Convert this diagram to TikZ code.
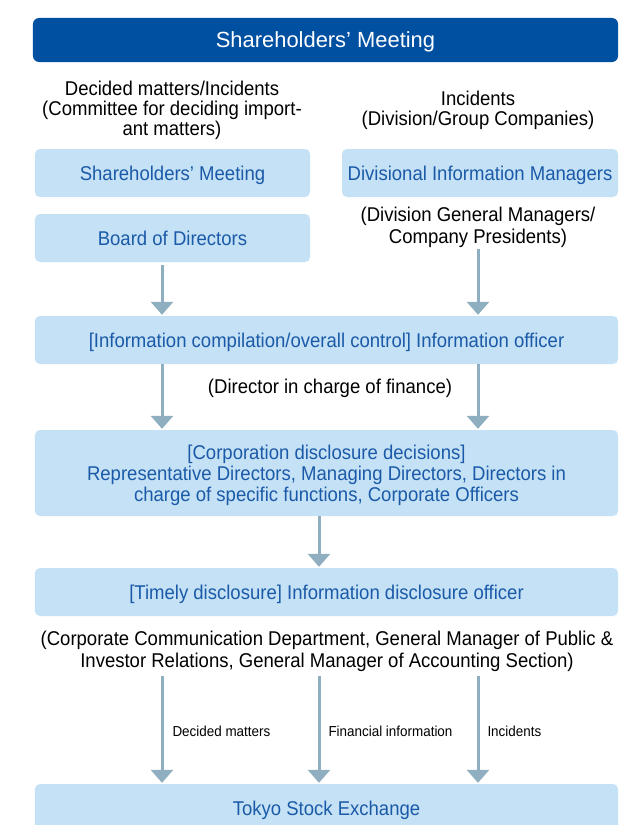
\documentclass[tikz,border=0pt]{standalone}
\usepackage{fontspec}
\setmainfont[FakeStretch=0.93]{Liberation Sans}
\newfontfamily\hdrfont{Liberation Sans}
\usetikzlibrary{arrows.meta}
\definecolor{hdr}{HTML}{0050A2}
\definecolor{boxfill}{HTML}{C5E1F5}
\definecolor{boxtext}{HTML}{1A5AA8}
\definecolor{arrcol}{HTML}{8FAEC0}
\tikzset{
  x=1bp, y=-1bp,
  lbox/.style={fill=boxfill, rounded corners=5bp, text=boxtext, align=center,
    font=\fontsize{20}{21}\selectfont, inner sep=0pt, minimum height=48bp,
    text height=18bp, text depth=3.6bp},
  mbox/.style={fill=boxfill, rounded corners=5bp, text=boxtext, align=center,
    font=\fontsize{20}{21}\selectfont, inner sep=0pt, text depth=0.2bp},
  hbox/.style={fill=hdr, rounded corners=6bp, text=white, align=center,
    font=\hdrfont\fontsize{22}{24}\selectfont, inner sep=0pt, minimum height=44bp, minimum width=585bp,
    text height=18bp, text depth=2.6bp},
  note/.style={align=center, font=\fontsize{20}{21}\selectfont, inner sep=1bp, text=black},
  small/.style={font=\fontsize{14.5}{16}\selectfont, inner sep=0pt, anchor=west, text=black},
  arr/.style={draw=arrcol, line width=3bp, -{Triangle[width=22bp,length=13bp]}, arrcol}
}
\begin{document}
\begin{tikzpicture}
\useasboundingbox (0,0) rectangle (632,825);
\node[hbox] (hdr) at (325.5,40) {Shareholders’ Meeting};
\node[note, font=\fontsize{20}{20}\selectfont] (lnote) at (172,110) {Decided matters/Incidents\\(Committee for deciding import-\\ant matters)};
\node[note, font=\fontsize{20}{20}\selectfont] (rnote) at (478,110) {Incidents\\(Division/Group Companies)};
\node[lbox, minimum width=275bp] (sm) at (172.5,173) {Shareholders’ Meeting};
\node[lbox, minimum width=276bp] (dim) at (480,173) {Divisional Information Managers};
\node[note, font=\fontsize{20}{22}\selectfont] (dgm) at (478,227) {(Division General Managers/\\Company Presidents)};
\node[lbox, minimum width=275bp] (bod) at (172.5,238) {Board of Directors};
\node[lbox, minimum width=583bp] (info) at (326.5,340) {[Information compilation/overall control] Information officer};
\node[note] (dir) at (330,388) {(Director in charge of finance)};
\node[mbox, minimum width=583bp, minimum height=86bp] (corp) at (326.5,473) {[Corporation disclosure decisions]\\Representative Directors, Managing Directors, Directors in\\charge of specific functions, Corporate Officers};
\node[lbox, minimum width=583bp] (tim) at (326.5,592) {[Timely disclosure] Information disclosure officer};
\node[note, font=\fontsize{20}{22}\selectfont] (ccd) at (327,651) {(Corporate Communication Department, General Manager of Public \&\\Investor Relations, General Manager of Accounting Section)};
\node[lbox, minimum width=583bp] (tse) at (326.5,808) {Tokyo Stock Exchange};
\coordinate (xl) at (162,0);
\coordinate (xm) at (319,0);
\coordinate (xr) at (478,0);
\draw[arr] ([yshift=-3bp]xl |- bod.south) -- ([yshift=1bp]xl |- info.north);
\draw[arr] ([yshift=-1bp]xr |- dgm.south) -- ([yshift=1bp]xr |- info.north);
\draw[arr] (xl |- info.south) -- ([yshift=1bp]xl |- corp.north);
\draw[arr] (xr |- info.south) -- ([yshift=1bp]xr |- corp.north);
\draw[arr] (xm |- corp.south) -- ([yshift=1bp]xm |- tim.north);
\draw[arr] ([yshift=-4bp]xl |- ccd.south) -- node[small, pos=0.5, xshift=9bp, yshift=-2bp] (l1) {Decided matters} ([yshift=1bp]xl |- tse.north);
\draw[arr] ([yshift=-4bp]xm |- ccd.south) -- node[small, pos=0.5, xshift=8bp, yshift=-2bp] (l2) {Financial information} ([yshift=1bp]xm |- tse.north);
\draw[arr] ([yshift=-4bp]xr |- ccd.south) -- node[small, pos=0.5, xshift=8bp, yshift=-2bp] (l3) {Incidents} ([yshift=1bp]xr |- tse.north);
\end{tikzpicture}
\end{document}
